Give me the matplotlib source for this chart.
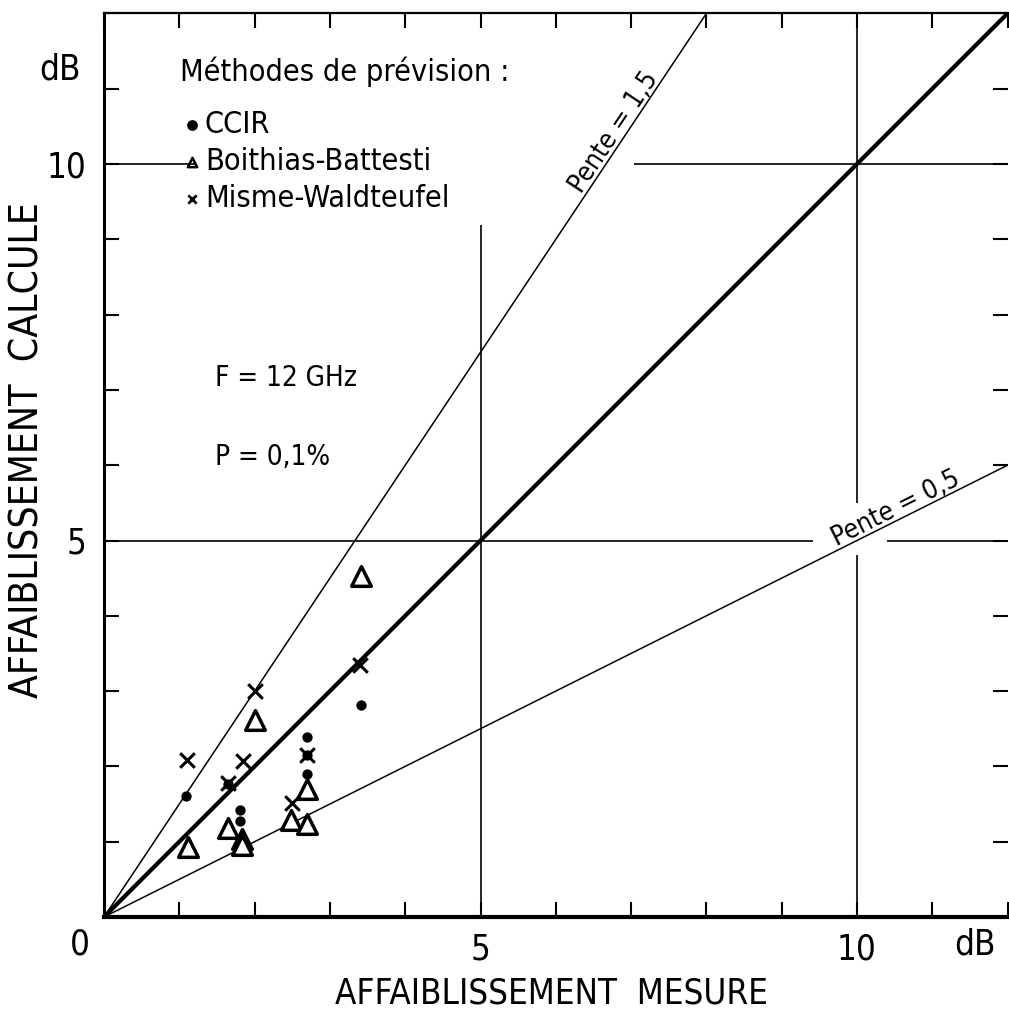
import numpy as np
import matplotlib
matplotlib.use("Agg")
import matplotlib.pyplot as plt

# Measured vs. computed rain attenuation at 12 GHz, P = 0.1 %
ccir_x = [1.09, 1.81, 1.81, 2.69, 2.69, 3.41, 1.65, 2.69]
ccir_y = [1.61, 1.42, 1.28, 2.39, 1.90, 2.82, 1.77, 2.15]

boithias_x = [1.11, 2.00, 1.65, 1.83, 1.83, 2.49, 2.70, 2.69, 3.41]
boithias_y = [0.93, 2.62, 1.18, 1.03, 0.95, 1.29, 1.24, 1.70, 4.53]

misme_x = [1.10, 2.00, 1.84, 1.65, 3.40, 2.50, 2.69]
misme_y = [2.09, 3.00, 2.07, 1.78, 3.35, 1.52, 2.15]

slopes = [1.5, 1.0, 0.5]
slope_labels = {1.5: "Pente = 1,5", 0.5: "Pente = 0,5"}

methods = ["CCIR", "Boithias-Battesti", "Misme-Waldteufel"]

plt.rcParams['font.family'] = ['DejaVu Sans']
plt.rcParams['font.stretch'] = 'condensed'

W, H = 1009, 1017
fig = plt.figure(figsize=(W / 100, H / 100), dpi=100)
ax = fig.add_axes([104 / W, (H - 917) / H, 903.6 / W, 903.6 / H])
ax.set_xlim(0, 12)
ax.set_ylim(0, 12)

# Reference lines through the origin
xx = np.array([0.0, 12.0])
for s in slopes:
    lw = 3.0 if s == 1.0 else 1.1
    ax.plot(xx, s * xx, color="black", lw=lw, solid_capstyle="butt", zorder=3)

# Grid lines at 5 and 10 dB, interrupted where text sits
gl = dict(color="black", lw=1.2, zorder=2)
ax.hlines(10, 0, 1.21, **gl)
ax.hlines(10, 7.04, 12, **gl)
ax.hlines(5, 0, 9.42, **gl)
ax.hlines(5, 10.4, 12, **gl)
ax.vlines(5, 0, 9.19, **gl)
ax.vlines(10, 0, 4.81, **gl)
ax.vlines(10, 5.50, 12, **gl)

# Data points
ax.scatter(ccir_x, ccir_y, s=55, c="black", marker="o", linewidths=0, zorder=5)
ax.scatter(boithias_x, boithias_y, s=200, facecolors="white", edgecolors="black",
           marker="^", linewidths=2.5, zorder=4)
ax.scatter(misme_x, misme_y, s=110, c="black", marker="x", linewidths=2.2, zorder=6)

# Slope labels along the lines
ax.text(6.78, 10.42, slope_labels[1.5], rotation=np.degrees(np.arctan(1.5)),
        rotation_mode="anchor", ha="center", va="center", fontsize=19)
ax.text(10.52, 5.42, slope_labels[0.5], rotation=np.degrees(np.arctan(0.5)),
        rotation_mode="anchor", ha="center", va="center", fontsize=19)

# Legend block
ax.text(1.01, 11.22, "Méthodes de prévision :", ha="left", va="center", fontsize=22)
leg_y = [10.52, 10.03, 9.54]
ax.scatter([1.17], [leg_y[0]], s=60, c="black", marker="o", linewidths=0)
ax.scatter([1.17], [leg_y[1]], s=45, facecolors="white", edgecolors="black",
           marker="^", linewidths=1.8)
ax.scatter([1.17], [leg_y[2]], s=35, c="black", marker="x", linewidths=2.0)
for yv, name in zip(leg_y, methods):
    ax.text(1.34, yv, name, ha="left", va="center", fontsize=22)

ax.text(1.47, 7.16, "F = 12 GHz", ha="left", va="center", fontsize=20)
ax.text(1.47, 6.11, "P = 0,1%", ha="left", va="center", fontsize=20)

# Axes frame and ticks
ax.spines["right"].set_visible(False)
ax.spines["left"].set_linewidth(2.2)
ax.spines["bottom"].set_linewidth(3.0)
ax.spines["top"].set_linewidth(1.6)

ticks = np.arange(0, 13)
ax.set_xticks(ticks)
ax.set_yticks(ticks)
ax.set_xticklabels(["5" if t == 5 else "10" if t == 10 else "" for t in ticks])
ax.set_yticklabels(["5" if t == 5 else "10" if t == 10 else "" for t in ticks])
ax.tick_params(axis="both", direction="in", length=11, width=1.5, labelsize=25,
               top=True, right=True)
ax.tick_params(axis="x", pad=11)
ax.tick_params(axis="y", pad=13)

ax.text(-0.32, -0.37, "0", ha="center", va="center", fontsize=25, clip_on=False)
ax.text(11.57, -0.37, "dB", ha="center", va="center", fontsize=25, clip_on=False)
ax.text(-0.59, 11.25, "dB", ha="center", va="center", fontsize=25, clip_on=False)

# Axis titles
fig.text(551 / W, 1 - 994 / H, "AFFAIBLISSEMENT  MESURE", fontsize=25,
         ha="center", va="center")
fig.text(28 / W, 1 - 450 / H, "AFFAIBLISSEMENT  CALCULE", fontsize=28,
         rotation=90, ha="center", va="center")

fig.savefig("out.png", dpi=100)
